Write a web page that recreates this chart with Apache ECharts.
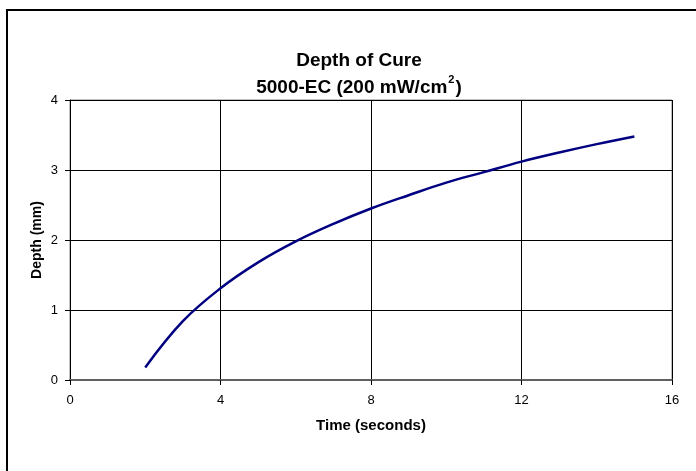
<!DOCTYPE html>
<html><head><meta charset="utf-8">
<script src="https://cdn.jsdelivr.net/npm/echarts@6/dist/echarts.min.js"></script>
<style>html,body{margin:0;padding:0;background:#fff}#c{width:696px;height:471px}</style>
</head><body><div id="c"></div>
<script>
const times = [2, 3, 4, 5, 6, 7, 8, 9, 10, 11, 12, 13, 14, 15];
const depths = [0.18, 0.84, 1.31, 1.68, 1.98, 2.23, 2.45, 2.64, 2.82, 2.97, 3.12, 3.25, 3.37, 3.48];
const xTicks = [0, 4, 8, 12, 16];
const yTicks = [0, 1, 2, 3, 4];
const titleLine1 = 'Depth of Cure';
const xName = 'Time (seconds)';
const yName = 'Depth (mm)';

const chart = echarts.init(document.getElementById('c'), null, {renderer: 'canvas'});
const F = 'Arial, "Liberation Sans", sans-serif';
chart.setOption({
  animation: false,
  backgroundColor: '#fff',
  title: {
    text: titleLine1 + '\n{n|5000-EC (200 mW/cm}{s|2}{n|)}',
    left: 354, top: 42, textAlign: 'center',
    textStyle: {
      fontFamily: F, fontSize: 19, fontWeight: 'bold', color: '#000', lineHeight: 27,
      rich: {
        n: {fontFamily: F, fontSize: 19, fontWeight: 'bold', color: '#000', lineHeight: 27},
        s: {fontFamily: F, fontSize: 11, fontWeight: 'bold', color: '#000', verticalAlign: 'top', padding: [0,1,10,1]}
      }
    }
  },
  graphic: [{
    type: 'rect', shape: {x: 7, y: 10, width: 720, height: 500},
    style: {fill: 'none', stroke: '#000', lineWidth: 2}, z: 100
  }],
  grid: {left: 70, right: 24, top: 100, bottom: 91, show: true, borderColor: '#808080', borderWidth: 1},
  xAxis: {
    type: 'value', min: xTicks[0], max: xTicks[xTicks.length-1], interval: 4,
    name: xName, nameLocation: 'middle', nameGap: 38,
    nameTextStyle: {fontFamily: F, fontSize: 15, fontWeight: 'bold', color: '#000'},
    axisLine: {show: true, onZero: false, lineStyle: {color: '#606060', width: 2}},
    axisTick: {show: true, inside: false, length: 5, lineStyle: {color: '#000'}},
    axisLabel: {fontFamily: F, fontSize: 13, color: '#000', margin: 14},
    splitLine: {show: true, lineStyle: {color: '#000', width: 1}}
  },
  yAxis: {
    type: 'value', min: yTicks[0], max: yTicks[yTicks.length-1], interval: 1,
    name: yName, nameLocation: 'middle', nameGap: 26, nameMoveOverlap: false,
    nameTextStyle: {fontFamily: F, fontSize: 14, fontWeight: 'bold', color: '#000'},
    axisLine: {show: true, onZero: false, lineStyle: {color: '#000', width: 1}},
    axisTick: {show: true, inside: false, length: 5, lineStyle: {color: '#000'}},
    axisLabel: {fontFamily: F, fontSize: 13, color: '#000', margin: 12},
    splitLine: {show: true, lineStyle: {color: '#000', width: 1}}
  },
  series: [{
    type: 'line', data: times.map((t, i) => [t, depths[i]]),
    smooth: 0.4, showSymbol: false, symbol: 'none',
    lineStyle: {color: '#000080', width: 2.5}
  }]
});
</script></body></html>
